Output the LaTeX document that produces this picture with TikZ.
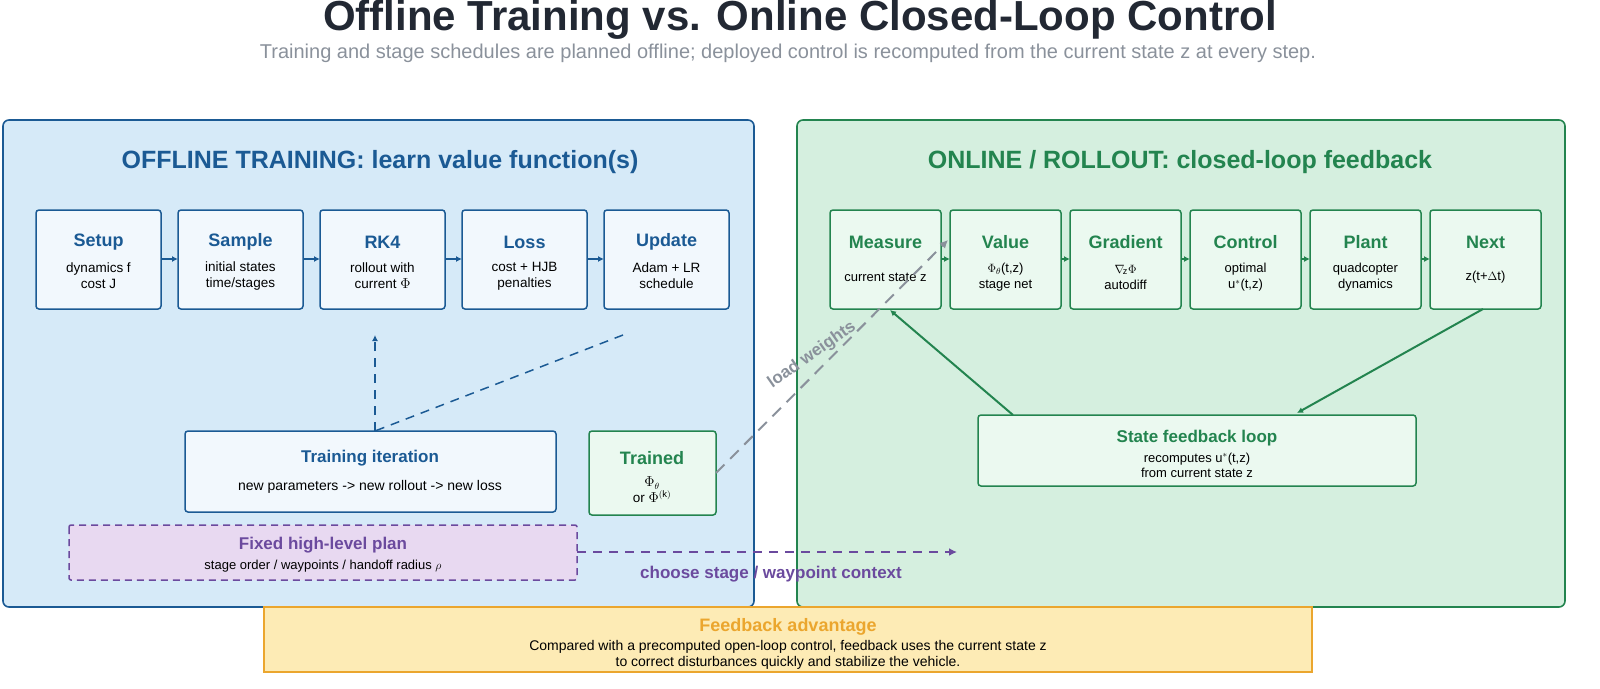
\documentclass[tikz,border=0pt]{standalone}
\usepackage{fontspec}
\setmainfont{Liberation Sans}
\usetikzlibrary{arrows.meta}
\definecolor{bl}{HTML}{1B5A94}
\definecolor{blfill}{HTML}{D6EAF8}
\definecolor{blbox}{HTML}{F2F8FD}
\definecolor{gr}{HTML}{23844F}
\definecolor{grfill}{HTML}{D5EFDF}
\definecolor{grbox}{HTML}{EBF9F0}
\definecolor{pu}{HTML}{6B4A9E}
\definecolor{pufill}{HTML}{E8D9F1}
\definecolor{ye}{HTML}{EBA62E}
\definecolor{yefill}{HTML}{FDEBB5}
\definecolor{tt}{HTML}{222833}
\definecolor{gy}{HTML}{8A919B}
\begin{document}
\begin{tikzpicture}[x=1pt,y=-1pt,
  panel/.style={rounded corners=6pt,line width=1.6pt},
  bbox/.style={draw=bl,fill=blbox,line width=1.5pt,rounded corners=3pt},
  gbox/.style={draw=gr,fill=grbox,line width=1.5pt,rounded corners=3pt},
  ttl/.style={font=\bfseries\fontsize{18}{20}\selectfont},
  sub/.style={font=\fontsize{13.5}{16}\selectfont,align=center,text=black},
  barr/.style={-{Latex[length=6pt,width=6pt]},draw=bl,line width=1.5pt},
  garr/.style={-{Latex[length=6pt,width=6pt]},draw=gr,line width=1.5pt}]
\useasboundingbox (0,0) rectangle (1600,688);
\node[text=tt,font=\bfseries\fontsize{42}{46}\selectfont] (title) at (800,20) {Offline Training vs. Online Closed-Loop Control};
\node[text=gy,font=\fontsize{20}{23}\selectfont] (subtitle) at (788,53) {Training and stage schedules are planned offline; deployed control is recomputed from the current state z at every step.};
% panels
\draw[panel,draw=bl,fill=blfill] (3,120) rectangle (754,607);
\draw[panel,draw=gr,fill=grfill] (797,120) rectangle (1565,607);
\node[text=bl,font=\bfseries\fontsize{25}{28}\selectfont] (lh) at (380,162) {OFFLINE TRAINING: learn value function(s)};
\node[text=gr,font=\bfseries\fontsize{25}{28}\selectfont] (rh) at (1180,162) {ONLINE / ROLLOUT: closed-loop feedback};
% left boxes
\foreach \n/\x/\t/\a/\b in {setup/36/Setup/dynamics f/cost J, sample/178/Sample/initial states/time\slash stages, rk/320/RK4/rollout with/current $\Phi$, loss/462/Loss/cost + HJB/penalties, upd/604/Update/Adam + LR/schedule}{
  \draw[bbox] (\x,210) rectangle ++(125,99);
  \coordinate (\n W) at (\x,259); \coordinate (\n E) at (\x+125,259);
  \node[ttl,text=bl] (\n T) at (\x+62.5,242) {\t};
  \node[sub] (\n S) at (\x+62.5,276) {\a\\\b};
}
\foreach \a/\b in {setup/sample,sample/rk,rk/loss,loss/upd} \draw[barr] (\a E) -- (\b W);
% right boxes
\foreach \n/\x/\t/\s in {meas/830/Measure/{current state z}, val/950/Value/{$\Phi_\theta$(t,z)\\stage net}, grad/1070/Gradient/{$\nabla_{\!\mathrm{z}}\Phi$\\autodiff}, ctrl/1190/Control/{optimal\\u$^*$(t,z)}, plant/1310/Plant/{quadcopter\\dynamics}, next/1430/Next/{z(t+$\Delta$t)}}{
  \draw[gbox] (\x,210) rectangle ++(111,99);
  \coordinate (\n W) at (\x,259); \coordinate (\n E) at (\x+111,259);
  \node[ttl,text=gr] (\n T) at (\x+55.5,242) {\t};
  \node[sub,font=\fontsize{13}{16}\selectfont] (\n S) at (\x+55.5,277) {\s};
}
\foreach \a/\b in {meas/val,val/grad,grad/ctrl,ctrl/plant,plant/next} \draw[garr] (\a E) -- (\b W);
% training iteration
\draw[bbox] (185,431) rectangle (556,512);
\node[text=bl,font=\bfseries\fontsize{17}{19}\selectfont] (tiT) at (370,458) {Training iteration};
\node[sub,font=\fontsize{14}{16}\selectfont] (tiS) at (370,487) {new parameters -> new rollout -> new loss};
\coordinate (tiTop) at (375,431);
\coordinate (rkB) at (375,335);
\coordinate (updB) at (623,335);
\draw[bl,line width=1.5pt,dash pattern=on 9pt off 7pt] (updB) -- (tiTop);
\draw[barr,dash pattern=on 9pt off 7pt] (tiTop) -- (rkB);
% trained
\draw[gbox] (589,431) rectangle (716,515);
\node[ttl,text=gr] (trT) at (652,458) {Trained};
\node[sub] (trS) at (652,490) {$\Phi_\theta$\\or $\Phi^{(\mathrm{k})}$};
\coordinate (trE) at (716,473);
\coordinate (valIn) at (948,240);
\draw[-{Latex[length=8pt,width=8pt]},gy,line width=2pt,dash pattern=on 12pt off 8pt] (trE) -- (valIn);
\node[text=gy,font=\bfseries\fontsize{17}{19}\selectfont,rotate=35] (lw) at (812,355) {load weights};
% plan
\draw[draw=pu,fill=pufill,line width=1.5pt,dash pattern=on 7pt off 5pt,rounded corners=2pt] (69,525) rectangle (577,580);
\node[text=pu,font=\bfseries\fontsize{17}{19}\selectfont] (plT) at (323,545) {Fixed high-level plan};
\node[sub,font=\fontsize{13}{15}\selectfont] (plS) at (323,566) {stage order / waypoints / handoff radius $\rho$};
\coordinate (plE) at (577,552); \coordinate (ctx) at (957,552);
\draw[-{Latex[length=8pt,width=8pt]},pu,line width=1.8pt,dash pattern=on 9pt off 7pt] (plE) -- (ctx);
\node[text=pu,font=\bfseries\fontsize{17}{19}\selectfont] (ctxL) at (771,574) {choose stage / waypoint context};
% feedback loop
\draw[gbox] (978,415) rectangle (1416,486);
\node[text=gr,font=\bfseries\fontsize{17}{19}\selectfont] (fbT) at (1197,438) {State feedback loop};
\node[sub,font=\fontsize{13}{15}\selectfont] (fbS) at (1197,465) {recomputes u$^*$(t,z)\\from current state z};
\coordinate (nextB) at (1483,309); \coordinate (fbIn) at (1297,413);
\coordinate (fbOut) at (1013,415); \coordinate (measB) at (890,310);
\draw[garr,line width=2pt] (nextB) -- (fbIn);
\draw[garr,line width=2pt] (fbOut) -- (measB);
% feedback advantage
\draw[draw=ye,fill=yefill,line width=1.8pt] (264,607) rectangle (1312,672);
\node[text=ye,font=\bfseries\fontsize{18}{20}\selectfont] (faT) at (788,627) {Feedback advantage};
\node[sub,font=\fontsize{14}{15.5}\selectfont] (faS) at (788,655) {Compared with a precomputed open-loop control, feedback uses the current state z\\to correct disturbances quickly and stabilize the vehicle.};
\end{tikzpicture}
\end{document}
